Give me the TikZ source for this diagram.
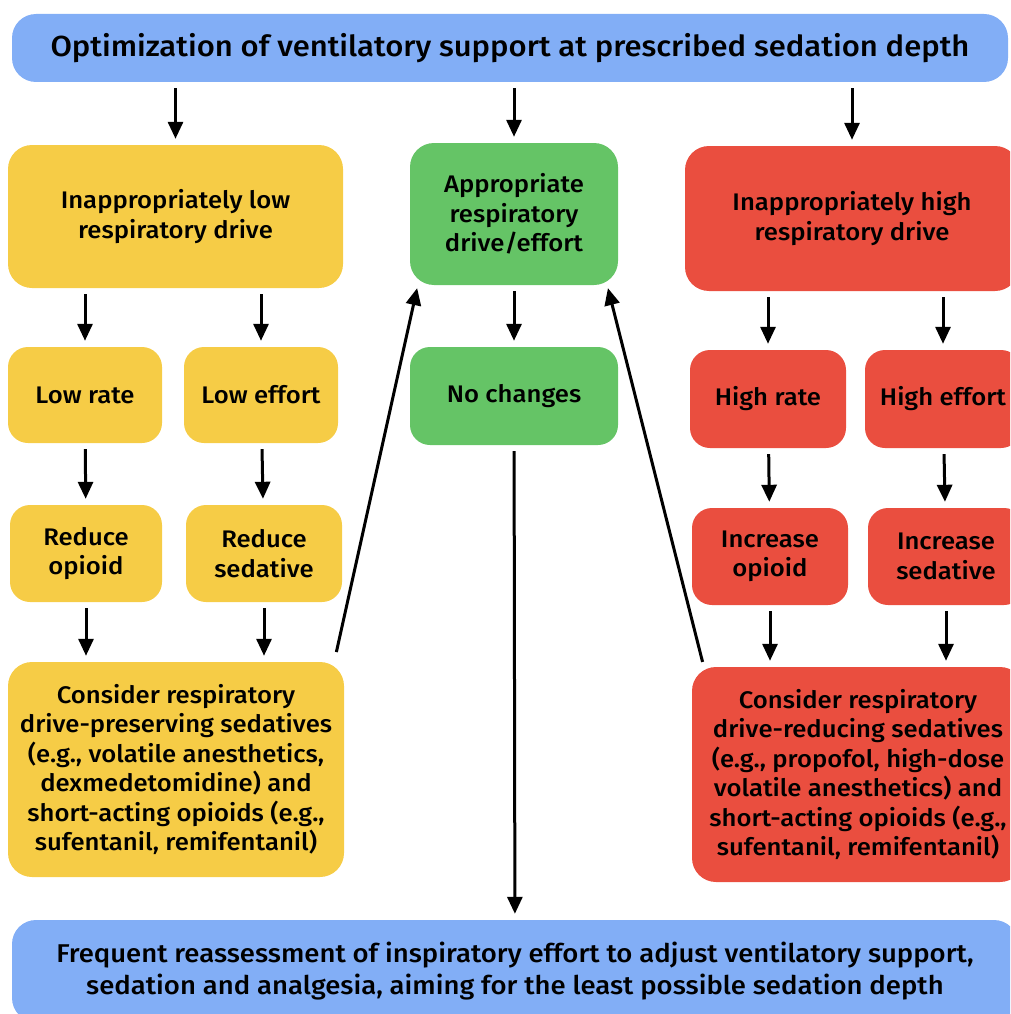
\documentclass[tikz,border=0pt]{standalone}
\usepackage{fontspec}
\setmainfont{Fira Sans}[UprightFont=* Medium, FakeStretch=1.07]
\usetikzlibrary{positioning,arrows.meta}

\definecolor{bluec}{HTML}{82AEF6}
\definecolor{lowc}{HTML}{F6CC46}
\definecolor{okc}{HTML}{65C466}
\definecolor{highc}{HTML}{EA4E3F}

\begin{document}
\begin{tikzpicture}[x=1pt,y=-1pt,
    card/.style={rounded corners=24pt, align=center, inner sep=0pt, text=black,
        font=\fontsize{24}{29.5}\selectfont},
    bluebox/.style={card, fill=bluec},
    lowbox/.style={card, fill=lowc},
    okbox/.style={card, fill=okc},
    highbox/.style={card, fill=highc},
    arr/.style={-{Triangle[length=17pt,width=15pt]}, line width=3pt, shorten <=6pt, shorten >=6pt}]

\useasboundingbox (0,0) rectangle (1010,1014);
\clip (0,0) rectangle (1010,1014);

%Top====================================================================
\node[bluebox, minimum width=996pt, minimum height=68pt, font=\fontsize{29}{32}\selectfont] (top) at (510,48) {Optimization of ventilatory support at prescribed sedation depth};

%Low drive==============================================================
\node[lowbox, minimum width=335pt, minimum height=143pt] (lowdrv) at (175.5,216.5) {Inappropriately low\\respiratory drive};
\node[lowbox, rounded corners=20pt, minimum width=154pt, minimum height=96pt] (lowrate) at (85,395) {Low rate};
\node[lowbox, rounded corners=20pt, minimum width=154pt, minimum height=96pt] (loweff) at (261,395) {Low effort};
\node[lowbox, rounded corners=20pt, minimum width=152pt, minimum height=97pt] (redop) at (86,553.5) {Reduce\\opioid};
\node[lowbox, rounded corners=20pt, minimum width=156pt, minimum height=97pt] (redsed) at (264,553.5) {Reduce\\sedative};
\node[lowbox, minimum width=336pt, minimum height=215pt] (conslow) at (176,769.5) {Consider respiratory\\drive-preserving sedatives\\(e.g., volatile anesthetics,\\dexmedetomidine) and\\short-acting opioids (e.g.,\\sufentanil, remifentanil)};

\draw[arr] (top.south -| lowdrv) -- (lowdrv);
\draw[arr] (lowdrv.south -| lowrate) -- (lowrate);
\draw[arr] (lowdrv.south -| loweff) -- (loweff);
\draw[arr] (lowrate) -- (redop);
\draw[arr] (loweff) -- (redsed);
\draw[arr] (redop) -- (redop |- conslow.north);
\draw[arr] (redsed) -- (redsed |- conslow.north);
%=======================================================================

%Appropriate============================================================
\node[okbox, minimum width=208pt, minimum height=142pt] (approp) at (514,214) {Appropriate\\respiratory\\drive/effort};
\node[okbox, rounded corners=20pt, minimum width=208pt, minimum height=98pt] (nochg) at (514,396) {No changes};

\draw[arr] (top.south -| approp) -- (approp);
\draw[arr] (approp) -- (nochg);
%=======================================================================

%High drive=============================================================
\node[highbox, minimum width=334pt, minimum height=145pt] (highdrv) at (852,218.5) {Inappropriately high\\respiratory drive};
\node[highbox, rounded corners=20pt, minimum width=156pt, minimum height=98pt] (highrate) at (768,399) {High rate};
\node[highbox, rounded corners=20pt, minimum width=156pt, minimum height=98pt] (higheff) at (943,399) {High effort};
\node[highbox, rounded corners=20pt, minimum width=156pt, minimum height=97pt] (incop) at (770,556.5) {Increase\\opioid};
\node[highbox, rounded corners=20pt, minimum width=156pt, minimum height=97pt] (incsed) at (946,556.5) {Increase\\sedative};
\node[highbox, minimum width=332pt, minimum height=215pt] (conshigh) at (858,774.5) {Consider respiratory\\drive-reducing sedatives\\(e.g., propofol, high-dose\\volatile anesthetics) and\\short-acting opioids (e.g.,\\sufentanil, remifentanil)};

\draw[arr] (top.south -| highdrv) -- (highdrv);
\draw[arr] (highdrv.south -| highrate) -- (highrate);
\draw[arr] (highdrv.south -| higheff) -- (higheff);
\draw[arr] (highrate) -- (incop);
\draw[arr] (higheff) -- (incsed);
\draw[arr] (incop) -- (incop |- conshigh.north);
\draw[arr] (incsed) -- (incsed |- conshigh.north);
%=======================================================================

%Bottom=================================================================
\node[bluebox, minimum width=1006pt, minimum height=102pt, font=\fontsize{25.7}{32}\selectfont] (final) at (515,971) {Frequent reassessment of inspiratory effort to adjust ventilatory support,\\sedation and analgesia, aiming for the least possible sedation depth};

\draw[arr] (nochg) -- (final);
\draw[arr, shorten <=10pt, shorten >=3pt] ([xshift=-10pt]conslow.north east) -- ([xshift=8pt]approp.south west);
\draw[arr, shorten <=5pt, shorten >=3pt] ([xshift=12pt]conshigh.north west) -- ([xshift=-11pt]approp.south east);
%=======================================================================

\end{tikzpicture}
\end{document}
